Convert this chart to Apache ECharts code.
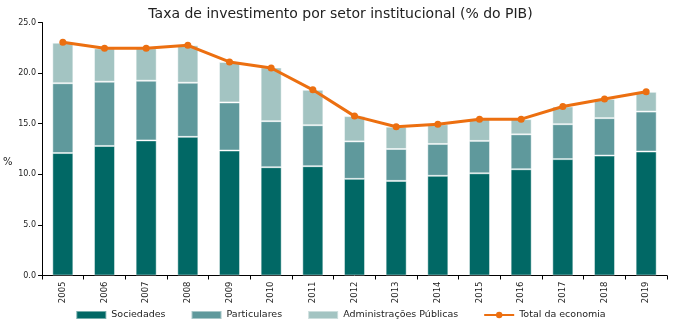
<!DOCTYPE html>
<html><head><meta charset="utf-8">
<script src="https://cdn.jsdelivr.net/npm/echarts@6/dist/echarts.min.js"></script>
<style>html,body{margin:0;padding:0;background:#fff}#c{width:681px;height:329px}</style>
</head><body><div id="c"></div>
<script>
var years = ['2005','2006','2007','2008','2009','2010','2011','2012','2013','2014','2015','2016','2017','2018','2019'];
var sociedades = [12.1, 12.8, 13.35, 13.7, 12.35, 10.7, 10.8, 9.55, 9.35, 9.85, 10.1, 10.5, 11.5, 11.85, 12.25];
var particulares = [6.9, 6.35, 5.9, 5.35, 4.75, 4.55, 4.05, 3.7, 3.15, 3.15, 3.2, 3.45, 3.45, 3.7, 3.95];
var administracoes = [4.0, 3.3, 3.2, 3.7, 4.0, 5.3, 3.5, 2.5, 2.2, 1.95, 2.15, 1.5, 1.75, 1.9, 1.95];
var total = [23.05, 22.45, 22.45, 22.75, 21.1, 20.5, 18.35, 15.75, 14.7, 14.95, 15.45, 15.45, 16.7, 17.45, 18.15];
var yTicks = [0, 5, 10, 15, 20, 25];

var font = 'DejaVu Sans';
var chart = echarts.init(document.getElementById('c'));
var barStyle = function(c){ return {color: c, borderColor: 'rgba(255,255,255,0.45)', borderWidth: 1}; };
chart.setOption({
  animation: false,
  textStyle: {fontFamily: font},
  title: {text: 'Taxa de investimento por setor institucional (% do PIB)', left: 'center', top: 2,
    textStyle: {fontFamily: font, fontSize: 14, fontWeight: 'normal', color: '#222'}},
  graphic: [{type: 'text', left: 3, top: 157, style: {text: '%', font: '10px "DejaVu Sans"', fill: '#222'}}],
  grid: {left: 42, right: 14, top: 22.5, bottom: 53.5},
  legend: {bottom: 4, left: 'center', itemWidth: 30, itemHeight: 8, itemGap: 25,
    textStyle: {fontFamily: font, fontSize: 9.5, color: '#222'},
    data: [{name: 'Sociedades', icon: 'rect'}, {name: 'Particulares', icon: 'rect'}, {name: 'Administrações Públicas', icon: 'rect'}, {name: 'Total da economia'}]},
  xAxis: {type: 'category', data: years, boundaryGap: true,
    axisLine: {lineStyle: {color: '#000', width: 1}},
    axisTick: {show: true, length: 4, lineStyle: {color: '#000'}},
    axisLabel: {rotate: 90, fontSize: 8.5, color: '#222', fontFamily: font, margin: 6}},
  yAxis: {type: 'value', min: yTicks[0], max: yTicks[yTicks.length-1], interval: 5,
    splitLine: {show: false},
    axisLine: {show: true, lineStyle: {color: '#000', width: 1}},
    axisTick: {show: true, length: 4, lineStyle: {color: '#000'}},
    axisLabel: {fontSize: 8, color: '#222', fontFamily: font, margin: 6, formatter: function(v){return v.toFixed(1);}}},
  series: [
    {name: 'Sociedades', type: 'bar', stack: 's', barWidth: 21, data: sociedades, itemStyle: barStyle('#016865')},
    {name: 'Particulares', type: 'bar', stack: 's', data: particulares, itemStyle: barStyle('#5f999c')},
    {name: 'Administrações Públicas', type: 'bar', stack: 's', data: administracoes, itemStyle: barStyle('#a3c4c2')},
    {name: 'Total da economia', type: 'line', data: total, symbol: 'circle', symbolSize: 7, z: 5,
      lineStyle: {color: '#ec6f10', width: 3}, itemStyle: {color: '#ec6f10'}}
  ]
});
</script></body></html>
